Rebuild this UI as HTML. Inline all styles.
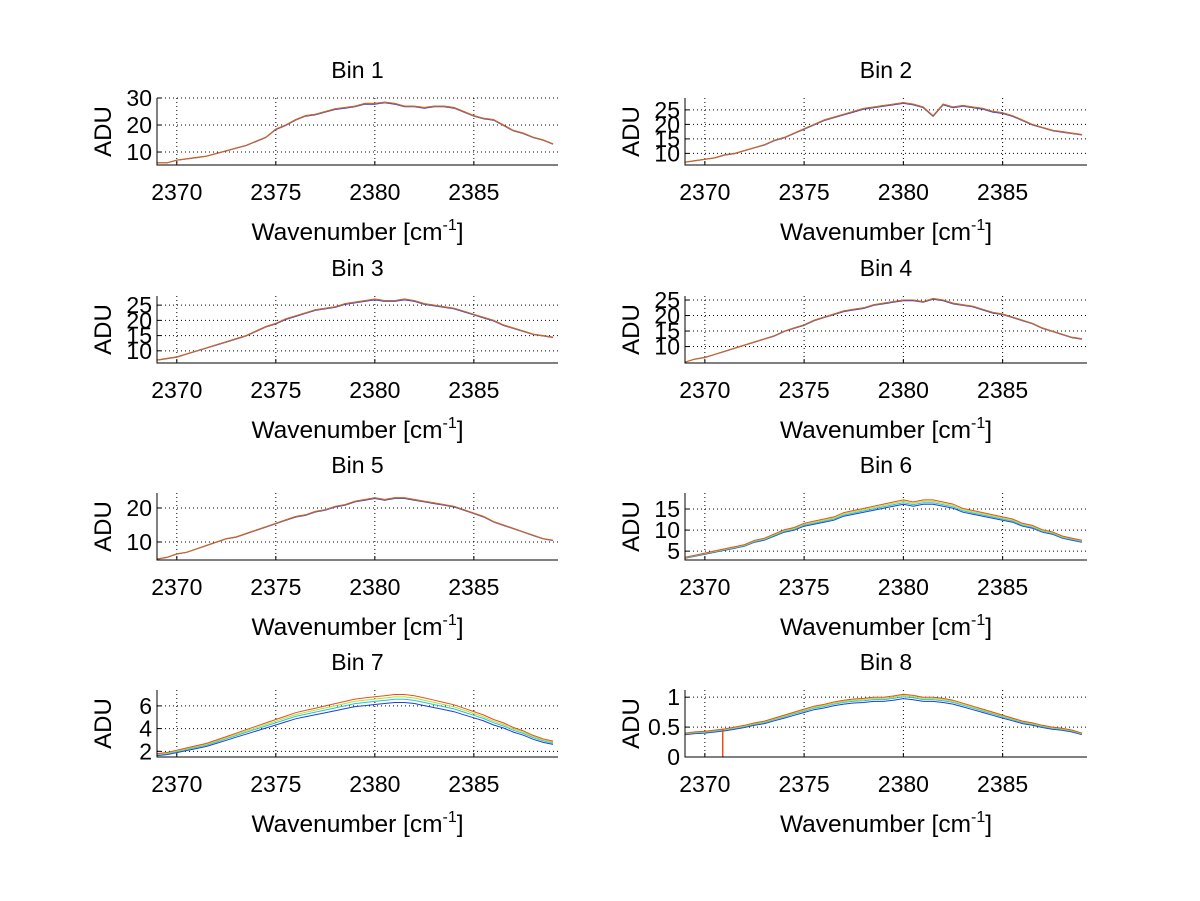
<!DOCTYPE html>
<html><head><meta charset="utf-8"><style>
body{margin:0;background:#fff;}
svg{display:block;font-family:"Liberation Sans",sans-serif;}
</style></head><body>
<svg id="fig" width="1200" height="901" viewBox="0 0 1200 901"></svg>
<script>
const xStart = 2369.0, xEnd = 2389.25;
const xTicks = [2370, 2375, 2380, 2385];
const waveStart = 2369, waveStep = 0.5;
const bin1 = [6,6,7,7.5,8,8.5,9.5,10.5,11.5,12.5,14,15.5,18.5,20,22,23.5,24,25,26,26.5,27,28,28,28.5,28,27,27,26.5,27,27,26.5,25,23.5,22.5,22,20,18,17,15.5,14.5,13];
const bin2 = [7,7.5,8,8.5,9.5,10,11,12,13,14.5,15.5,17,18.5,20,21.5,22.5,23.5,24.5,25.5,26,26.5,27,27.5,27,26,23,27,26,26.5,26,25.5,24.5,24,23,21.5,20,19,18,17.5,17,16.5];
const bin3 = [7,7.5,8,9,10,11,12,13,14,15,16.5,18,19,20.5,21.5,22.5,23.5,24,24.5,25.5,26,26.5,27,26.5,26.5,27,26.5,25.5,25,24.5,24,23,22,21,20,18.5,17.5,16.5,15.5,15,14.5];
const bin4 = [5,6,6.5,7.5,8.5,9.5,10.5,11.5,12.5,13.5,15,16,17,18.5,19.5,20.5,21.5,22,22.5,23.5,24,24.5,25,25,24.5,25.5,25,24,23.5,23,22,21,20.5,19.5,18.5,17.5,16,15,14,13,12.5];
const bin5 = [5,5.5,6.5,7,8,9,10,11,11.5,12.5,13.5,14.5,15.5,16.5,17.5,18,19,19.5,20.5,21,22,22.5,23,22.5,23,23,22.5,22,21.5,21,20.5,19.5,18.5,17.5,16,15,14,13,12,11,10.5];
const bin6 = [3.5,4,4.5,5,5.5,6,6.5,7.5,8,9,10,10.5,11.5,12,12.5,13,14,14.5,15,15.5,16,16.5,17,16.5,17,17,16.5,16,15,14.5,14,13.5,13,12.5,11.5,11,10,9.5,8.5,8,7.5];
const bin7 = [1.8,1.9,2.1,2.3,2.5,2.7,3,3.3,3.6,3.9,4.2,4.5,4.8,5.1,5.4,5.6,5.8,6,6.2,6.4,6.6,6.7,6.8,6.9,7,7,6.9,6.7,6.5,6.3,6.1,5.8,5.5,5.2,4.8,4.5,4.1,3.8,3.4,3.1,2.9];
const bin8 = [0.4,0.42,0.43,0.45,0.47,0.5,0.53,0.57,0.6,0.65,0.7,0.75,0.8,0.85,0.88,0.92,0.95,0.97,0.98,1.0,1.0,1.02,1.05,1.03,1.0,1.0,0.98,0.95,0.9,0.85,0.8,0.75,0.7,0.65,0.6,0.57,0.53,0.5,0.48,0.45,0.4];
const factorsFlat = [0.99,1.0,1.0,1.0];
const factors6 = [0.95,0.97,0.99,1.01];
const factors7 = [0.9,0.94,0.97,1.0];
const factors8 = [0.93,0.96,0.98,1.0];
const seriesColors = ["#1f3fd8","#22c8d8","#b8e030","#e8501a"];
const spike8X = 2370.9, spike8Min = 0;

const panels = [
 {title:"Bin 1",data:bin1,f:factorsFlat,ymin:5.2,ymax:30,yt:[10,20,30],yl:["10","20","30"]},
 {title:"Bin 2",data:bin2,f:factorsFlat,ymin:6,ymax:29.1,yt:[10,15,20,25],yl:["10","15","20","25"]},
 {title:"Bin 3",data:bin3,f:factorsFlat,ymin:6,ymax:28,yt:[10,15,20,25],yl:["10","15","20","25"]},
 {title:"Bin 4",data:bin4,f:factorsFlat,ymin:4.7,ymax:26.3,yt:[10,15,20,25],yl:["10","15","20","25"]},
 {title:"Bin 5",data:bin5,f:factorsFlat,ymin:4.7,ymax:24.4,yt:[10,20],yl:["10","20"]},
 {title:"Bin 6",data:bin6,f:factors6,ymin:2.9,ymax:18.8,yt:[5,10,15],yl:["5","10","15"]},
 {title:"Bin 7",data:bin7,f:factors7,ymin:1.5,ymax:7.4,yt:[2,4,6],yl:["2","4","6"]},
 {title:"Bin 8",data:bin8,f:factors8,ymin:0,ymax:1.12,yt:[0,0.5,1],yl:["0","0.5","1"],spike:true}
];
const NS="http://www.w3.org/2000/svg";
const svg=document.getElementById('fig');
function mk(tag,attrs,parent){const e=document.createElementNS(NS,tag);for(const k in attrs)e.setAttribute(k,attrs[k]);(parent||svg).appendChild(e);return e;}
const cols=[[157,558],[685,1087]], tops=[98,296,493,690], H=67;
panels.forEach((p,i)=>{
  const c=i%2, r=Math.floor(i/2);
  const x0=cols[c][0], x1=cols[c][1], y0=tops[r], y1=y0+H;
  const g=mk('g',{});
  
  
  const sx=v=>x0+(v-xStart)/(xEnd-xStart)*(x1-x0);
  const sy=v=>y1-(v-p.ymin)/(p.ymax-p.ymin)*H;
  xTicks.forEach(t=>{const l=mk('line',{x1:sx(t),x2:sx(t),y1:y0,y2:y1,stroke:'#000','stroke-width':1,'stroke-dasharray':'1,3'},g);
    
    mk('line',{x1:sx(t),x2:sx(t),y1:y1,y2:y1-4,stroke:'#000'},g);
    const tx=mk('text',{x:sx(t),y:y1+35,'font-size':23,'text-anchor':'middle'},g);tx.textContent=String(t);
    });
  p.yt.forEach((t,k)=>{const l=mk('line',{x1:x0,x2:x1,y1:sy(t),y2:sy(t),stroke:'#000','stroke-width':1,'stroke-dasharray':'1,3'},g);
    
    mk('line',{x1:x0,x2:x0+4,y1:sy(t),y2:sy(t),stroke:'#000'},g);
    const tx=mk('text',{x:x0-5,y:sy(t)+8,'font-size':23,'text-anchor':'end'},g);tx.textContent=p.yl[k];
    });
  p.f.forEach((f,s)=>{
    const pts=p.data.map((v,j)=>sx(waveStart+j*waveStep).toFixed(1)+','+sy(v*f).toFixed(1)).join(' ');
    const pl=mk('polyline',{points:pts,fill:'none',stroke:seriesColors[s],'stroke-width':1},g);
    
    
  });
  if(p.spike){
    const j=(spike8X-waveStart)/waveStep, lo=Math.floor(j);
    const v=p.data[lo]+(p.data[lo+1]-p.data[lo])*(j-lo);
    const sp=mk('line',{x1:sx(spike8X),x2:sx(spike8X),y1:sy(v),y2:sy(spike8Min),stroke:'#e8501a','stroke-width':1.5},g);
    
  }
  const ax=mk('path',{d:`M${x0},${y0} L${x0},${y1} L${x1},${y1}`,fill:'none',stroke:'#000','stroke-width':1},g);
  
  const ti=mk('text',{x:(x0+x1)/2,y:y0-20,'font-size':23,'text-anchor':'middle'},g);ti.textContent=p.title;
  
  const yl=mk('text',{x:0,y:0,'font-size':24,'text-anchor':'middle',transform:`translate(${x0-46},${(y0+y1)/2}) rotate(-90)`},g);yl.textContent='ADU';
  
  const xl=mk('text',{x:(x0+x1)/2,y:y1+75,'font-size':24.5,'text-anchor':'middle'},g);
  
  xl.appendChild(document.createTextNode('Wavenumber [cm'));
  const sup=mk('tspan',{dy:-10,'font-size':16},xl);sup.textContent='-1';
  const cl=mk('tspan',{dy:10},xl);cl.textContent=']';
});
</script>
</body></html>
